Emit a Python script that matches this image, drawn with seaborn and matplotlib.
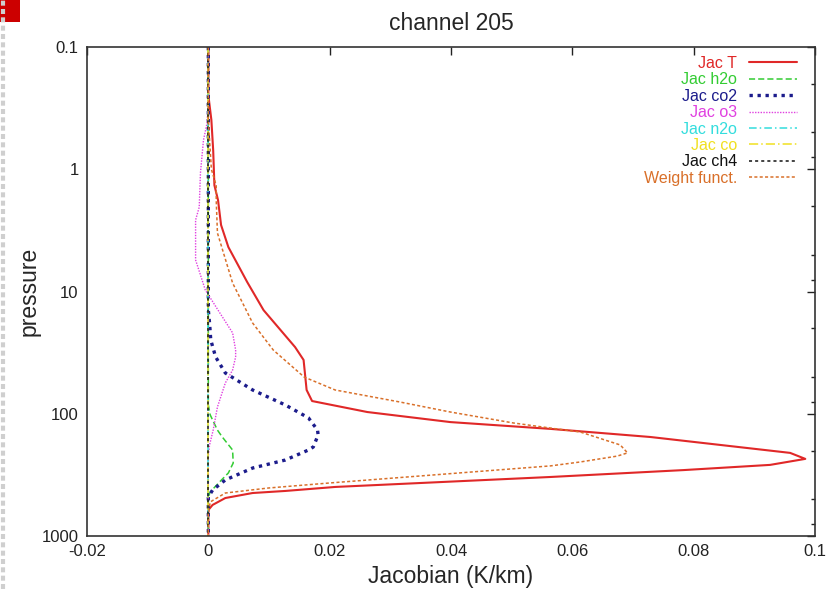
import numpy as np
import pandas as pd
import seaborn as sns
import matplotlib.pyplot as plt
from matplotlib.ticker import FixedLocator, LogLocator, FuncFormatter, NullFormatter
from matplotlib.patches import Rectangle
from matplotlib.lines import Line2D

# --- data (pressure in hPa, jacobian in K/km) ---
P_T = [0.1, 0.247, 0.395, 0.70, 1.35, 1.79, 2.86, 4.33, 8.36, 14.2, 28.5, 36.3, 63.9, 78.7,
       96.8, 117, 133, 155, 209, 234, 262, 289, 329, 397, 428, 445, 489, 557, 613, 1000]
JAC_T = [0, 0, 0.0005, 0.0008, 0.001, 0.0016, 0.0021, 0.0033, 0.0064, 0.0091, 0.0143, 0.0157,
         0.0162, 0.0171, 0.0262, 0.0399, 0.0564, 0.0729, 0.0959, 0.0984, 0.0926, 0.0783,
         0.0564, 0.0209, 0.0127, 0.0073, 0.0028, 0.0007, 0, 0]

P_H2O = [0.1, 84.8, 102, 136, 155, 198, 253, 305, 368, 437, 480, 1000]
JAC_H2O = [0, 0, 0.0003, 0.0015, 0.0023, 0.0040, 0.0041, 0.0033, 0.0017, 0.0003, 0, 0]

P_CO2 = [0.1, 14.2, 18.1, 24.9, 34.3, 46.4, 63.9, 84.8, 108, 136, 149, 187, 198, 239, 278,
         348, 421, 480, 1000]
JAC_CO2 = [0, 0, 0.0002, 0.0004, 0.0012, 0.0028, 0.0073, 0.0127, 0.0165, 0.0180, 0.0181,
           0.0173, 0.0165, 0.0127, 0.0073, 0.0028, 0.0007, 0, 0]

P_O3 = [0.1, 0.271, 0.418, 0.577, 1.07, 2.04, 2.60, 5.52, 9.72, 14.2, 21.8, 30.1, 34.3, 43.9,
        56.0, 88.1, 136, 180, 220, 1000]
JAC_O3 = [0, 0, -0.0002, -0.0008, -0.0013, -0.0015, -0.0021, -0.0021, -0.0005, 0.0016, 0.0040,
          0.0045, 0.0045, 0.0040, 0.0028, 0.0015, 0.0008, 0.0002, 0, 0]

P_FLAT = [0.1, 1000]
JAC_N2O = [0, 0]
JAC_CO = [0, 0]
JAC_CH4 = [0, 0]

P_WF = [0.1, 0.395, 1.0, 1.36, 1.785, 3.32, 8.52, 18.1, 30.1, 50.1, 63.9, 80.2, 96.8, 119, 131,
        141, 180, 209, 222, 248, 267, 368, 405, 445, 527, 673, 1000]
WEIGHT = [0, 0, 0.0005, 0.0013, 0.0013, 0.0015, 0.0040, 0.0073, 0.0107, 0.0158, 0.0209,
          0.0316, 0.0399, 0.0503, 0.0564, 0.0613, 0.0679, 0.0691, 0.0674, 0.0613, 0.0564,
          0.0201, 0.0099, 0.0028, 0.0003, 0, 0]

LABELS = ["Jac T", "Jac h2o", "Jac co2", "Jac o3", "Jac n2o", "Jac co", "Jac ch4", "Weight funct."]
X_TICKS = [-0.02, 0, 0.02, 0.04, 0.06, 0.08, 0.1]
Y_TICKS = [0.1, 1, 10, 100, 1000]

series = [
    (P_T, JAC_T), (P_H2O, JAC_H2O), (P_CO2, JAC_CO2), (P_O3, JAC_O3),
    (P_FLAT, JAC_N2O), (P_FLAT, JAC_CO), (P_FLAT, JAC_CH4), (P_WF, WEIGHT),
]

styles = {
    "Jac T":         dict(color="#e02828", lw=1.5, ls="-"),
    "Jac h2o":       dict(color="#33cc33", lw=1.1, ls=(0, (4, 2))),
    "Jac co2":       dict(color="#1c1c8c", lw=2.4, ls=(0, (1, 1.4))),
    "Jac o3":        dict(color="#e040e0", lw=1.0, ls=(0, (1, 1))),
    "Jac n2o":       dict(color="#33dddd", lw=1.1, ls=(0, (5, 2, 1, 2))),
    "Jac co":        dict(color="#f0e020", lw=1.1, ls=(0, (6, 2, 1, 2))),
    "Jac ch4":       dict(color="#111111", lw=1.1, ls=(0, (2, 2))),
    "Weight funct.": dict(color="#d9702a", lw=1.1, ls=(0, (2, 1.5))),
}

sns.set_theme(style="white")
plt.rcParams['font.family'] = ['Liberation Sans', 'DejaVu Sans']

fig = plt.figure(figsize=(8.26, 5.89), dpi=100)
ax = fig.add_axes([87 / 826, 1 - 536 / 589, (815 - 87) / 826, (536 - 47) / 589])

for label, (p, v) in zip(LABELS, series):
    st = styles[label]
    df = pd.DataFrame({"jac": v, "p": p})
    sns.lineplot(data=df, x="jac", y="p", sort=False, estimator=None, ax=ax,
                 color=st["color"], linewidth=st["lw"], linestyle=st["ls"], label=label)

ax.set_yscale("log")
ax.set_ylim(1000, 0.1)
ax.set_xlim(-0.02, 0.1)
ax.xaxis.set_major_locator(FixedLocator(X_TICKS))
ax.yaxis.set_major_locator(FixedLocator(Y_TICKS))
ax.yaxis.set_minor_locator(LogLocator(base=10, subs=(2, 5, 8)))
ax.yaxis.set_minor_formatter(NullFormatter())
fmt = FuncFormatter(lambda v, _: f"{v:g}")
ax.xaxis.set_major_formatter(fmt)
ax.yaxis.set_major_formatter(fmt)

ax.tick_params(axis="both", which="both", direction="in", top=True, right=True,
               labelsize=12, colors="#222222", pad=6)
ax.tick_params(which="major", length=5.5, width=1)
ax.tick_params(which="minor", length=3, width=1)
ax.tick_params(axis="x", which="minor", length=0)
for s in ax.spines.values():
    s.set_color("#333333")
    s.set_linewidth(1.2)

ax.set_title("channel 205", fontsize=16.5, pad=12)
ax.set_xlabel("Jacobian (K/km)", fontsize=16.5, labelpad=4)
ax.set_ylabel("pressure", fontsize=16.5, labelpad=1)

handles = [Line2D([], [], color=styles[l]["color"], lw=styles[l]["lw"], ls=styles[l]["ls"])
           for l in LABELS]
leg = ax.legend(handles, LABELS, loc="upper right", bbox_to_anchor=(0.993, 1.008),
                frameon=False, markerfirst=False, fontsize=11.5, handlelength=3.0,
                handletextpad=0.75, labelspacing=0.09, borderpad=0.3)
for txt, l in zip(leg.get_texts(), LABELS):
    txt.set_color(styles[l]["color"])

# slide decorations around the picture
fig.add_artist(Rectangle((0, 1 - 22 / 589), 20 / 826, 22 / 589, transform=fig.transFigure,
                         color="#cc0000", lw=0))
fig.add_artist(Line2D([3 / 826, 3 / 826], [0, 1], transform=fig.transFigure,
                      color="#cfcfcf", lw=3, ls=(0, (1.2, 0.8))))

fig.savefig("out.png", dpi=100)
